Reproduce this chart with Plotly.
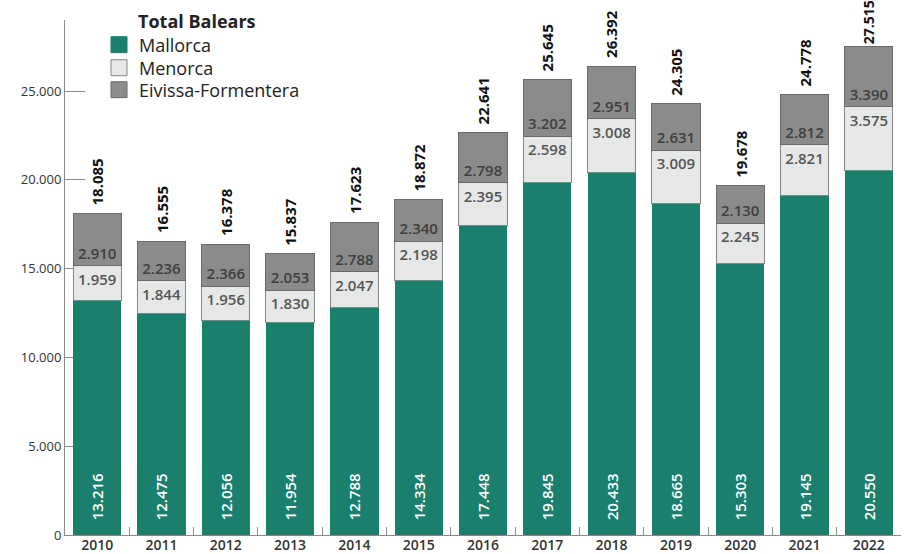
import plotly.graph_objects as go

years = ["2010", "2011", "2012", "2013", "2014", "2015", "2016",
         "2017", "2018", "2019", "2020", "2021", "2022"]
mallorca = [13216, 12475, 12056, 11954, 12788, 14334, 17448,
            19845, 20433, 18665, 15303, 19145, 20550]
menorca = [1959, 1844, 1956, 1830, 2047, 2198, 2395,
           2598, 3008, 3009, 2245, 2821, 3575]
eivissa = [2910, 2236, 2366, 2053, 2788, 2340, 2798,
           3202, 2951, 2631, 2130, 2812, 3390]
totals = [18085, 16555, 16378, 15837, 17623, 18872, 22641,
          25645, 26392, 24305, 19678, 24778, 27515]
series_names = ["Mallorca", "Menorca", "Eivissa-Formentera"]


def fmt(v):
    return f"{v:,}".replace(",", ".")


FONT = "Open Sans"
W, H = 907, 554
L, R, T, B = 65, 6, 20, 19
OFF = 0  # body margin removed below
PW, PH = W - L - R, H - T - B
YMAX = 29000

C_MAL, C_MEN, C_EIV = "#1b7f6e", "#e6e8e8", "#8b8b8b"
LN_MEN, LN_EIV = "#858585", "#6a6a6a"


def px2x(sx):
    return (sx - OFF - L) / PW


def py2y(sy):
    return 1 - (sy - OFF - T) / PH


fig = go.Figure()

fig.add_trace(go.Bar(
    x=years, y=mallorca, name=series_names[0], showlegend=False,
    marker=dict(color=C_MAL, line=dict(width=0)),
    text=["\u00a0\u00a0\u00a0" + fmt(v) for v in mallorca], textposition="inside",
    insidetextanchor="start", textangle=-90,
    textfont=dict(color="white", size=15, family=FONT, weight=600),
))
fig.add_trace(go.Bar(
    x=years, y=menorca, name=series_names[1], showlegend=False,
    marker=dict(color=C_MEN, line=dict(color=LN_MEN, width=1)),
    text=[fmt(v) for v in menorca], textposition="inside",
    insidetextanchor="end", textangle=0,
    textfont=dict(color="#555555", size=15, family=FONT, weight=600),
))
fig.add_trace(go.Bar(
    x=years, y=eivissa, name=series_names[2], showlegend=False,
    marker=dict(color=C_EIV, line=dict(color=LN_EIV, width=1)),
    text=[fmt(v) for v in eivissa], textposition="inside",
    insidetextanchor="start", textangle=0,
    textfont=dict(color="#3e3e3e", size=15, family=FONT, weight=600),
))

# legend-only entries with larger square swatches
legend_specs = [
    (series_names[0], C_MAL, C_MAL, "legend"),
    (series_names[1], C_MEN, LN_MEN, "legend2"),
    (series_names[2], C_EIV, LN_EIV, "legend3"),
]
for name, col, lcol, leg in legend_specs:
    fig.add_trace(go.Scatter(
        x=[None], y=[None], mode="markers", name=name, legend=leg,
        marker=dict(symbol="square", size=16, color=col,
                    line=dict(color=lcol, width=1)),
        showlegend=True, hoverinfo="skip",
    ))

top_total = max(totals)
for i, t in enumerate(totals):
    is_top = t == top_total
    fig.add_annotation(
        x=i, y=t, xref="x", yref="y", text="<b>" + fmt(t) + "</b>",
        showarrow=False, textangle=-90,
        yanchor="bottom", xanchor="center",
        yshift=0 if is_top else 6,
        font=dict(size=14 if is_top else 15, color="#111111", family=FONT),
    )

fig.add_annotation(
    x=px2x(136), y=py2y(21), xref="paper", yref="paper",
    text="<b>Total Balears</b>",
    showarrow=False, xanchor="left", yanchor="middle",
    font=dict(size=18, color="#222222", family=FONT),
)

leg_common = dict(
    xanchor="left", yanchor="middle",
    font=dict(size=18, color="#222222", family=FONT),
    bgcolor="rgba(0,0,0,0)", itemwidth=30, itemsizing="trace",
)

fig.update_layout(
    width=W, height=H,
    margin=dict(l=L, r=R, t=T, b=B, autoexpand=False),
    barmode="stack", bargap=0.25,
    plot_bgcolor="white", paper_bgcolor="white",
    separators=",.",
    font=dict(family=FONT, color="#333333", size=13),
    showlegend=True,
    uniformtext=dict(mode=False),
    legend=dict(x=px2x(99), y=py2y(45), **leg_common),
    legend2=dict(x=px2x(99), y=py2y(68), **leg_common),
    legend3=dict(x=px2x(99), y=py2y(90), **leg_common),
    xaxis=dict(
        type="category", range=[-0.5, 12.5], automargin=False,
        showline=True, linecolor="#8a8a8a", linewidth=1,
        ticks="inside", tickson="boundaries", ticklen=8,
        tickcolor="#8a8a8a", showgrid=False, ticklabelstandoff=-3,
        tickfont=dict(size=14, color="#333333", family=FONT, weight=600),
    ),
    yaxis=dict(
        range=[0, YMAX], tickvals=[0, 5000, 10000, 15000, 20000, 25000],
        tickformat=",d", automargin=False,
        showline=True, linecolor="#8a8a8a", linewidth=1,
        ticks="inside", ticklen=20, tickcolor="#8a8a8a",
        showgrid=False, zeroline=False, layer="below traces",
        tickfont=dict(size=13, color="#333333", family=FONT),
    ),
)

fig.write_html(
    "out.html",
    config={"displayModeBar": False},
    post_script="document.body.style.margin='0px';",
)
